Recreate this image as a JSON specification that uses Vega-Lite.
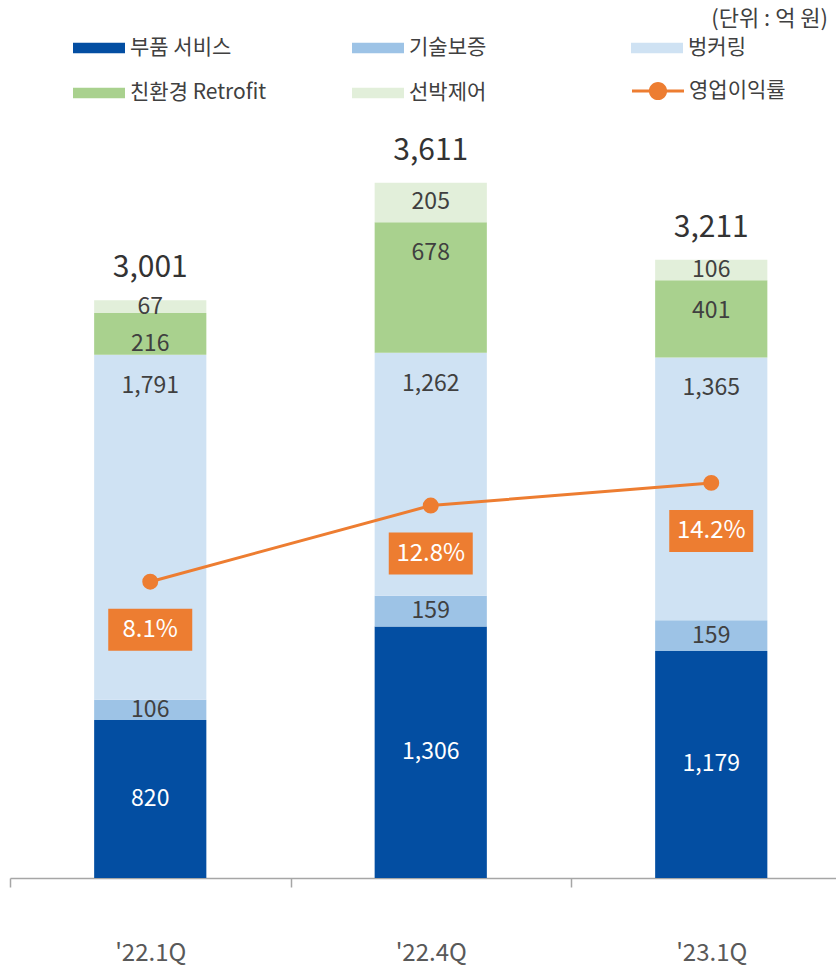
{
  "$schema": "https://vega.github.io/schema/vega-lite/v6.json",
  "width": 826,
  "height": 838,
  "autosize": {"type": "none"},
  "padding": {"left": 10, "top": 40, "right": 0, "bottom": 92},
  "title": {"text": "(단위 : 억 원)", "anchor": "end", "frame": "group", "fontSize": 22, "fontWeight": "normal", "color": "#404040", "font": "Noto Sans CJK KR", "offset": 6, "dx": -8, "dy": 15},
  "config": {
    "view": {"stroke": null},
    "text": {"font": "Noto Sans CJK KR"},
    "axis": {"labelFont": "Noto Sans CJK KR"},
    "legend": {"labelFont": "Noto Sans CJK KR"}
  },
  "datasets": {
    "segments": [
      {"quarter": "'22.1Q", "category": "부품 서비스", "amount": 820},
      {"quarter": "'22.1Q", "category": "기술보증", "amount": 106},
      {"quarter": "'22.1Q", "category": "벙커링", "amount": 1791},
      {"quarter": "'22.1Q", "category": "친환경 Retrofit", "amount": 216},
      {"quarter": "'22.1Q", "category": "선박제어", "amount": 67},
      {"quarter": "'22.4Q", "category": "부품 서비스", "amount": 1306},
      {"quarter": "'22.4Q", "category": "기술보증", "amount": 159},
      {"quarter": "'22.4Q", "category": "벙커링", "amount": 1262},
      {"quarter": "'22.4Q", "category": "친환경 Retrofit", "amount": 678},
      {"quarter": "'22.4Q", "category": "선박제어", "amount": 205},
      {"quarter": "'23.1Q", "category": "부품 서비스", "amount": 1179},
      {"quarter": "'23.1Q", "category": "기술보증", "amount": 159},
      {"quarter": "'23.1Q", "category": "벙커링", "amount": 1365},
      {"quarter": "'23.1Q", "category": "친환경 Retrofit", "amount": 401},
      {"quarter": "'23.1Q", "category": "선박제어", "amount": 106}
    ],
    "totals": [
      {"quarter": "'22.1Q", "total": 3001},
      {"quarter": "'22.4Q", "total": 3611},
      {"quarter": "'23.1Q", "total": 3211}
    ],
    "margins": [
      {"quarter": "'22.1Q", "margin": 0.081},
      {"quarter": "'22.4Q", "margin": 0.128},
      {"quarter": "'23.1Q", "margin": 0.142}
    ]
  },
  "layer": [
    {
      "data": {"name": "segments"},
      "transform": [{"stack": "amount", "groupby": ["quarter"], "as": ["y0", "y1"]}],
      "layer": [
        {
          "mark": {"type": "bar", "width": {"band": 0.4}},
          "encoding": {
            "x": {
              "field": "quarter", "type": "nominal", "sort": null,
              "scale": {"range": [0, 841.5], "paddingInner": 0, "paddingOuter": 0},
              "axis": {"title": null, "labelAngle": 0, "tickBand": "extent", "domainColor": "#A6A6A6", "domainWidth": 1.5, "tickColor": "#A6A6A6", "tickWidth": 1.5, "tickSize": 9, "labelFontSize": 24, "labelColor": "#595959", "labelPadding": 54, "labelBaseline": "top"}
            },
            "y": {"field": "y0", "type": "quantitative", "scale": {"domain": [0, 4351], "nice": false, "zero": true}, "axis": null},
            "y2": {"field": "y1"},
            "color": {
              "field": "category", "type": "nominal",
              "scale": {"domain": ["부품 서비스", "친환경 Retrofit", "기술보증", "선박제어", "벙커링"], "range": ["#034EA2", "#A9D18E", "#9DC3E6", "#E2EFDA", "#CFE2F3"]},
              "legend": {"orient": "none", "legendX": 63, "legendY": -18, "columns": 3, "gridAlign": "all", "columnPadding": 85, "rowPadding": 9, "symbolType": "M-1,-0.2L1,-0.2L1,0.2L-1,0.2Z", "symbolSize": 2704, "symbolStrokeWidth": 0, "symbolOpacity": 1, "labelFontSize": 21, "labelColor": "#404040", "labelOffset": 5, "title": null, "padding": 0}
            }
          }
        },
        {
          "transform": [
            {"filter": {"field": "category", "oneOf": ["부품 서비스", "기술보증", "선박제어"]}},
            {"calculate": "(datum.y0 + datum.y1) / 2", "as": "ymid"}
          ],
          "mark": {"type": "text", "baseline": "middle", "align": "center", "fontSize": 23},
          "encoding": {
            "x": {"field": "quarter", "type": "nominal", "sort": null},
            "y": {"field": "ymid", "type": "quantitative", "scale": {"domain": [0, 4351], "nice": false, "zero": true}, "axis": null},
            "text": {"field": "amount", "type": "quantitative", "format": ","},
            "color": {"condition": {"test": "datum.category === '부품 서비스'", "value": "#FFFFFF"}, "value": "#404040"}
          }
        },
        {
          "transform": [{"filter": {"field": "category", "oneOf": ["벙커링", "친환경 Retrofit"]}}],
          "mark": {"type": "text", "baseline": "middle", "align": "center", "fontSize": 23, "dy": 31, "color": "#404040"},
          "encoding": {
            "x": {"field": "quarter", "type": "nominal", "sort": null},
            "y": {"field": "y1", "type": "quantitative", "scale": {"domain": [0, 4351], "nice": false, "zero": true}, "axis": null},
            "text": {"field": "amount", "type": "quantitative", "format": ","}
          }
        }
      ]
    },
    {
      "data": {"name": "totals"},
      "mark": {"type": "text", "baseline": "middle", "align": "center", "fontSize": 30, "dy": -32, "color": "#333333"},
      "encoding": {
        "x": {"field": "quarter", "type": "nominal", "sort": null},
        "y": {"field": "total", "type": "quantitative", "scale": {"domain": [0, 4351], "nice": false, "zero": true}, "axis": null},
        "text": {"field": "total", "type": "quantitative", "format": ","}
      }
    },
    {
      "data": {"name": "margins"},
      "layer": [
        {
          "mark": {"type": "line", "color": "#ED7D31", "strokeWidth": 3},
          "encoding": {
            "x": {"field": "quarter", "type": "nominal", "sort": null},
            "y": {"field": "margin", "type": "quantitative", "scale": {"domain": [-0.1019, 0.4154], "nice": false, "zero": false}, "axis": null}
          }
        },
        {
          "mark": {"type": "point", "filled": true, "opacity": 1, "size": 254, "strokeWidth": 0},
          "encoding": {
            "x": {"field": "quarter", "type": "nominal", "sort": null},
            "y": {"field": "margin", "type": "quantitative", "scale": {"domain": [-0.1019, 0.4154], "nice": false, "zero": false}, "axis": null},
            "fill": {
              "datum": "영업이익률", "type": "nominal",
              "scale": {"range": ["#ED7D31"]},
              "legend": {"orient": "none", "legendX": 622, "legendY": 25, "symbolType": "M-1,-0.055L1,-0.055L1,0.055L-1,0.055Z M0.35,0A0.35,0.35 0 1,1 -0.35,0A0.35,0.35 0 1,1 0.35,0Z", "symbolSize": 2704, "symbolStrokeWidth": 0, "symbolOpacity": 1, "labelFontSize": 21, "labelColor": "#404040", "labelOffset": 5, "title": null, "padding": 0}
            }
          }
        },
        {
          "mark": {"type": "point", "filled": true, "opacity": 1, "color": "#ED7D31", "shape": "M-1,-0.5L1,-0.5L1,0.5L-1,0.5Z", "size": 7056, "strokeWidth": 0, "yOffset": 48},
          "encoding": {
            "x": {"field": "quarter", "type": "nominal", "sort": null},
            "y": {"field": "margin", "type": "quantitative", "scale": {"domain": [-0.1019, 0.4154], "nice": false, "zero": false}, "axis": null}
          }
        },
        {
          "mark": {"type": "text", "baseline": "middle", "align": "center", "fontSize": 24, "color": "#FFFFFF", "dy": 48},
          "encoding": {
            "x": {"field": "quarter", "type": "nominal", "sort": null},
            "y": {"field": "margin", "type": "quantitative", "scale": {"domain": [-0.1019, 0.4154], "nice": false, "zero": false}, "axis": null},
            "text": {"field": "margin", "type": "quantitative", "format": ".1%"}
          }
        }
      ]
    }
  ],
  "resolve": {"scale": {"y": "independent"}}
}
